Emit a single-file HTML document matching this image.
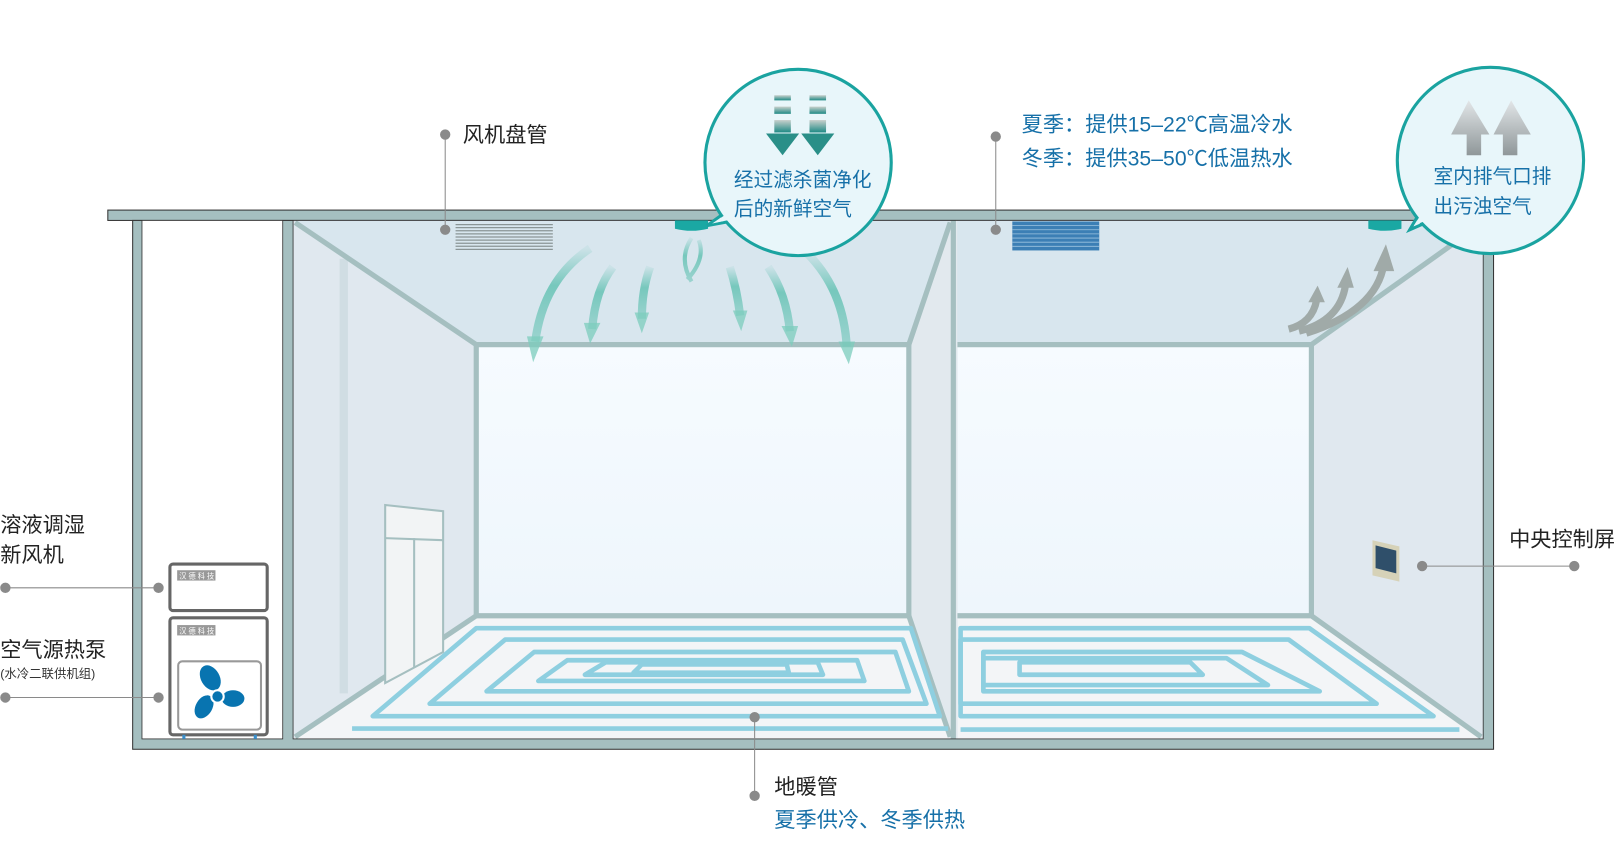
<!DOCTYPE html>
<html><head><meta charset="utf-8"><style>
html,body{margin:0;padding:0;background:#fff;width:1620px;height:860px;overflow:hidden}
svg{display:block}
text{font-family:"Liberation Sans","Noto Sans CJK SC",sans-serif}
</style></head><body>
<svg width="1620" height="860" viewBox="0 0 1565 831" xmlns="http://www.w3.org/2000/svg">
<defs>
<linearGradient id="bw" x1="0" y1="0" x2="0" y2="1"><stop offset="0" stop-color="#f6fbff"/><stop offset="1" stop-color="#eef6fc"/></linearGradient>
<linearGradient id="dn" x1="0" y1="0" x2="0" y2="1"><stop offset="0" stop-color="#c8d0cc"/><stop offset="1" stop-color="#1f8a85"/></linearGradient>
<linearGradient id="up" x1="0" y1="0" x2="0" y2="1"><stop offset="0" stop-color="#e2e6e8"/><stop offset="1" stop-color="#8f9799"/></linearGradient>
<linearGradient id="ca" x1="0" y1="0" x2="0" y2="1"><stop offset="0" stop-color="#5ec0b0" stop-opacity="0.1"/><stop offset="0.4" stop-color="#5ec0b0" stop-opacity="0.8"/><stop offset="1" stop-color="#5ec0b0" stop-opacity="0.5"/></linearGradient>
</defs>
<rect x="104" y="203" width="1339" height="10" fill="#a5bfc0" stroke="#333" stroke-width="1"/>
<rect x="128" y="213" width="1315" height="511" fill="#a5bfc0" stroke="#333" stroke-width="1"/>
<rect x="137" y="213" width="136" height="501" fill="#fff" stroke="#333" stroke-width="0.8"/>
<polygon points="283,213 918,213 878,333 460,333" fill="#d8e6ee"/>
<polygon points="283,213 460,333 460,595 283,714" fill="#e0e8ef"/>
<rect x="328" y="250" width="8" height="420" fill="#d0dde3"/>
<rect x="460" y="333" width="418" height="262" fill="url(#bw)"/>
<polygon points="460,595 878,595 918,714 283,714" fill="#f3f5f7"/>
<polygon points="878,333 918,213 925,213 925,714 918,714 878,595" fill="#e2e9ee"/>
<polygon points="925,213 1433,213 1267,333 925,333" fill="#d8e6ee"/>
<polygon points="1267,333 1433,213 1433,714 1267,595" fill="#e0e8ef"/>
<rect x="925" y="333" width="342" height="262" fill="url(#bw)"/>
<polygon points="925,595 1267,595 1433,714 925,714" fill="#f3f5f7"/>
<g stroke="#a5bfc0" stroke-width="5" fill="none">
<polyline points="285,215 460,333 878,333 918,215"/>
<polyline points="460,333 460,595 878,595 878,333"/>
<polyline points="285,712 460,595"/><line x1="878" y1="595" x2="918" y2="712"/>
<line x1="921" y1="213" x2="921" y2="714"/>
<polyline points="925,333 1267,333 1433,215"/>
<polyline points="925,595 1267,595 1431,712"/>
<line x1="1267" y1="333" x2="1267" y2="595"/>
</g>
<rect x="283" y="213" width="1150" height="501" fill="none" stroke="#333" stroke-width="0.8"/>
<polygon points="372,488 428,494 428,630 372,660" fill="#f2f4f5" stroke="#a5bfc0" stroke-width="2"/>
<line x1="372" y1="520" x2="428" y2="522" stroke="#a5bfc0" stroke-width="2"/>
<line x1="400" y1="520" x2="400" y2="645" stroke="#a5bfc0" stroke-width="2"/>
<g fill="none" stroke-linejoin="round" stroke="#8ecfe0" stroke-width="4.5">
<polyline points="340,704 916,704"/>
<polygon points="360,692 460,607 880,607 908,692"/>
<polygon points="415,680 488,618 872,618 895,680"/>
<polygon points="470,668 516,630 865,630 878,668"/>
<polygon points="520,658 548,638 828,638 835,658"/>
<polygon points="565,652 585,640 790,640 795,652"/>
<polygon points="612,650 620,642 760,642 762,650"/>
<polyline points="928,705 1410,705"/>
<polygon points="928,692 928,607 1265,607 1385,692"/>
<polygon points="928,680 928,618 1245,618 1330,680"/>
<polygon points="950,668 950,630 1200,630 1275,668"/>
<polygon points="950,662 950,636 1185,636 1225,662"/>
<polygon points="985,652 985,640 1150,640 1162,652"/>
</g>
<g stroke="#8a9596" stroke-width="1.2">
<line x1="440" y1="217" x2="534" y2="217"/><line x1="440" y1="220" x2="534" y2="220"/><line x1="440" y1="223" x2="534" y2="223"/><line x1="440" y1="226" x2="534" y2="226"/><line x1="440" y1="229" x2="534" y2="229"/><line x1="440" y1="232" x2="534" y2="232"/><line x1="440" y1="235" x2="534" y2="235"/><line x1="440" y1="238" x2="534" y2="238"/><line x1="440" y1="241" x2="534" y2="241"/>
</g>
<rect x="978" y="214" width="84" height="28" fill="#3c7fb5"/>
<g stroke="#9cc3e0" stroke-width="0.8">
<line x1="978" y1="218" x2="1062" y2="218"/><line x1="978" y1="222" x2="1062" y2="222"/><line x1="978" y1="226" x2="1062" y2="226"/><line x1="978" y1="230" x2="1062" y2="230"/><line x1="978" y1="234" x2="1062" y2="234"/><line x1="978" y1="238" x2="1062" y2="238"/>
</g>
<path d="M652,213 h32 v8 q-16,4 -32,0z" fill="#1aa8a3"/>
<path d="M1322,213 h32 v8 q-16,4 -32,0z" fill="#1aa8a3"/>
<g fill="none" stroke="url(#ca)" stroke-width="8">
<path d="M570,240 Q525,270 517,330"/>
<path d="M592,258 Q575,280 572,318"/>
<path d="M628,258 Q620,280 620,308"/>
<path d="M705,258 Q712,280 715,305"/>
<path d="M742,258 Q760,285 763,320"/>
<path d="M780,245 Q815,280 818,335"/>
<path d="M668,230 Q655,250 668,272 M675,232 Q682,250 664,270" stroke-width="4"/>
</g>
<g fill="#7ccdbd" opacity="0.75">
<polygon points="509,325 525,325 515,350"/><polygon points="564,312 580,312 570,332"/><polygon points="613,302 627,302 620,322"/>
<polygon points="708,300 722,300 716,320"/><polygon points="755,315 771,315 765,335"/><polygon points="810,330 826,330 820,352"/>
</g>
<g fill="none" stroke="#a0aaa8" stroke-width="7">
<path d="M1245,318 Q1268,312 1272,290"/>
<path d="M1255,320 Q1295,310 1300,275"/>
<path d="M1262,322 Q1330,300 1337,255"/>
</g>
<g fill="#a0aaa8">
<polygon points="1264,292 1280,292 1273,276"/><polygon points="1292,278 1308,278 1302,258"/><polygon points="1327,262 1347,262 1339,236"/>
</g>
<path d="M701,205 L683,218 L716,212z" fill="#e8f6fa" stroke="#1aa3a0" stroke-width="3"/>
<circle cx="771" cy="157" r="90" fill="#e8f6fa" stroke="#1aa3a0" stroke-width="3"/>
<path d="M703,206 L688,216 L716,210z" fill="#e8f6fa"/>
<g fill="url(#dn)">
<rect x="748" y="92" width="16" height="5"/><rect x="748" y="103" width="16" height="7"/><rect x="748" y="116" width="16" height="12"/>
<rect x="782" y="92" width="16" height="5"/><rect x="782" y="103" width="16" height="7"/><rect x="782" y="116" width="16" height="12"/>
</g>
<polygon points="740,129 772,129 756,150" fill="#2a8f88"/><polygon points="774,129 806,129 790,150" fill="#2a8f88"/>
<text x="709" y="180" font-size="19" fill="#1670a8">经过滤杀菌净化</text>
<text x="709" y="208" font-size="19" fill="#1670a8">后的新鲜空气</text>
<path d="M1372,205 L1362,222 L1385,212z" fill="#e8f6fa" stroke="#1aa3a0" stroke-width="3"/>
<circle cx="1440" cy="155" r="90" fill="#e8f6fa" stroke="#1aa3a0" stroke-width="3"/>
<path d="M1373,207 L1366,218 L1385,210z" fill="#e8f6fa"/>
<polygon points="1419,97 1439,130 1431,130 1431,150 1417,150 1417,130 1402,130" fill="url(#up)"/>
<polygon points="1460,97 1479,130 1466,130 1466,150 1452,150 1452,130 1443,130" fill="url(#up)"/>
<text x="1385" y="177" font-size="19" fill="#1670a8">室内排气口排</text>
<text x="1385" y="206" font-size="19" fill="#1670a8">出污浊空气</text>
<rect x="164" y="545" width="94" height="45" rx="3" fill="#fff" stroke="#666" stroke-width="3"/>
<rect x="171" y="551" width="37" height="10" fill="#999"/>
<text x="173" y="559" font-size="7" fill="#fff">汉 德 科 技</text>
<rect x="164" y="597" width="94" height="113" rx="3" fill="#fff" stroke="#666" stroke-width="3"/>
<rect x="171" y="604" width="37" height="10" fill="#999"/>
<text x="173" y="612" font-size="7" fill="#fff">汉 德 科 技</text>
<rect x="172" y="639" width="80" height="66" rx="4" fill="#fff" stroke="#999" stroke-width="2"/>
<g fill="#0874b0">
<ellipse cx="203" cy="655" rx="9" ry="13" transform="rotate(-30 203 655)"/>
<ellipse cx="225" cy="675" rx="11" ry="8"/>
<ellipse cx="197" cy="683" rx="8" ry="12" transform="rotate(30 197 683)"/>
<circle cx="210" cy="673" r="6" stroke="#fff" stroke-width="2"/>
</g>
<rect x="176" y="710" width="3" height="4" fill="#3a8fcc"/><rect x="245" y="710" width="3" height="4" fill="#3a8fcc"/>
<polygon points="1326,522 1352,528 1352,562 1326,556" fill="#d6d2b8"/>
<polygon points="1329,527 1349,532 1349,554 1329,549" fill="#2f4f6a"/>
<g stroke="#8a8a8a" stroke-width="1" fill="#8a8a8a">
<line x1="430" y1="130" x2="430" y2="222"/><circle cx="430" cy="130" r="4.5"/><circle cx="430" cy="222" r="4.5"/>
<line x1="962" y1="132" x2="962" y2="222"/><circle cx="962" cy="132" r="4.5"/><circle cx="962" cy="222" r="4.5"/>
<line x1="5" y1="568" x2="153" y2="568"/><circle cx="5" cy="568" r="4.5"/><circle cx="153" cy="568" r="4.5"/>
<line x1="5" y1="674" x2="153" y2="674"/><circle cx="5" cy="674" r="4.5"/><circle cx="153" cy="674" r="4.5"/>
<line x1="1374" y1="547" x2="1521" y2="547"/><circle cx="1374" cy="547" r="4.5"/><circle cx="1521" cy="547" r="4.5"/>
<line x1="729" y1="693" x2="729" y2="769"/><circle cx="729" cy="693" r="4.5"/><circle cx="729" cy="769" r="4.5"/>
</g>
<g font-size="20.5">
<text x="447" y="137" fill="#222">风机盘管</text>
<text x="987" y="127" fill="#1670a8">夏季：提供15–22℃高温冷水</text>
<text x="987" y="160" fill="#1670a8">冬季：提供35–50℃低温热水</text>
<text x="0" y="514" fill="#222">溶液调湿</text>
<text x="0" y="543" fill="#222">新风机</text>
<text x="0" y="635" fill="#222">空气源热泵</text>
<text x="1458" y="528" fill="#222">中央控制屏</text>
<text x="748" y="767" fill="#222">地暖管</text>
<text x="748" y="799" fill="#1670a8">夏季供冷、冬季供热</text>
</g>
<text x="0" y="655" font-size="12" fill="#333">(水冷二联供机组)</text>
</svg>
</body></html>
